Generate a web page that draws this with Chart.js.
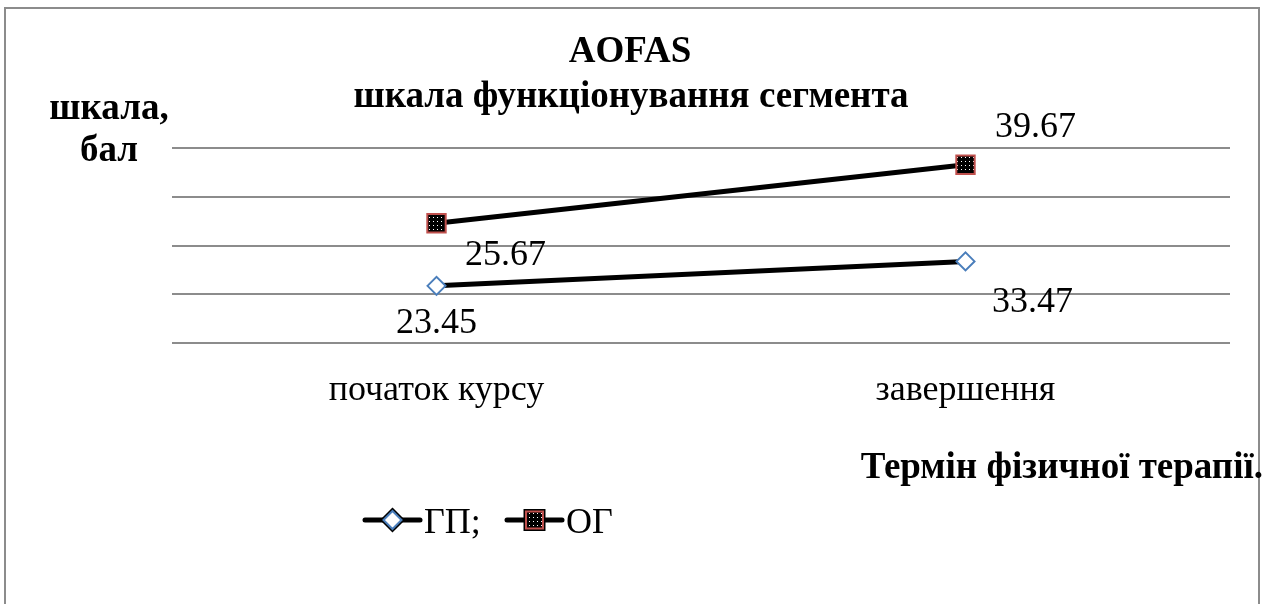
<!DOCTYPE html>
<html>
<head>
<meta charset="utf-8">
<script src="https://cdn.jsdelivr.net/npm/chart.js@4.4.0/dist/chart.umd.min.js"></script>
<style>
    html, body { margin: 0; padding: 0; background: #fff; }
    #wrap { width: 1267px; height: 604px; position: relative; }
</style>
</head>
<body>
<div id="wrap"><canvas id="aofasChart" width="1267" height="604"></canvas></div>
<script>
// ===========================
// AOFAS chart data
// ===========================
const categories = ['початок курсу', 'завершення'];
const seriesNames = ['ГП;', 'ОГ'];
const gpValues = [23.45, 33.47];
const ogValues = [25.67, 39.67];
const yTicks = [0, 20, 40, 60, 80];

const serif = '"Liberation Serif", "DejaVu Serif", serif';

// Патерн для маркера ОГ (чорна клітинка з білими крапками)
function makePattern() {
    const c = document.createElement('canvas');
    c.width = 4; c.height = 4;
    const g = c.getContext('2d');
    g.fillStyle = '#000';
    g.fillRect(0, 0, 4, 4);
    g.fillStyle = '#fff';
    g.fillRect(1, 1, 1, 1);
    return g.createPattern(c, 'repeat');
}
const ogPattern = makePattern();

// Підписи значень: зміщення відносно точки
const labelOffsets = [
    [[0, 38], [67, 41]],
    [[69, 32], [70, -37]]
];

const decorPlugin = {
    id: 'decor',
    beforeDraw(chart) {
        const ctx = chart.ctx;
        ctx.save();
        ctx.fillStyle = '#fff';
        ctx.fillRect(0, 0, chart.width, chart.height);
        ctx.strokeStyle = '#8c8c8c';
        ctx.lineWidth = 2;
        ctx.beginPath();
        ctx.moveTo(5, 700);
        ctx.lineTo(5, 8);
        ctx.lineTo(1259, 8);
        ctx.lineTo(1259, 700);
        ctx.stroke();
        ctx.restore();
    },
    afterDraw(chart) {
        const ctx = chart.ctx;
        const x = chart.scales.x;
        ctx.save();
        ctx.fillStyle = '#000';

        // Заголовок
        ctx.textBaseline = 'alphabetic';
        ctx.textAlign = 'center';
        ctx.font = 'bold 37px ' + serif;
        ctx.fillText('AOFAS', 630, 62);
        ctx.fillText('шкала функціонування сегмента', 631, 107);

        // Назва осі Y
        ctx.fillText('шкала,', 109, 119);
        ctx.fillText('бал', 109, 161);

        // Назва осі X
        ctx.textAlign = 'right';
        ctx.fillText('Термін фізичної терапії.', 1263, 478);

        // Категорії
        ctx.textAlign = 'center';
        ctx.font = '36px ' + serif;
        categories.forEach((c, i) => {
            ctx.fillText(c, x.getPixelForValue(i), 400);
        });

        // Підписи значень
        ctx.textBaseline = 'middle';
        ctx.font = '36px ' + serif;
        chart.data.datasets.forEach((ds, di) => {
            const meta = chart.getDatasetMeta(di);
            meta.data.forEach((pt, i) => {
                const off = labelOffsets[di][i];
                ctx.fillText(ds.data[i].toFixed(2), pt.x + off[0], pt.y + off[1]);
            });
        });

        // Легенда
        const legendY = 520;
        const items = [{ x: 365, text: seriesNames[0], w: 55 }, { x: 507, text: seriesNames[1], w: 55 }];
        items.forEach((it, di) => {
            const ds = chart.data.datasets[di];
            ctx.strokeStyle = '#000';
            ctx.lineWidth = 5;
            ctx.lineCap = 'round';
            ctx.beginPath();
            ctx.moveTo(it.x, legendY);
            ctx.lineTo(it.x + it.w, legendY);
            ctx.stroke();
            Chart.helpers.drawPoint(ctx, {
                pointStyle: ds.pointStyle,
                radius: di === 0 ? 9 : 12,
                borderWidth: 2
            }, it.x + it.w / 2, legendY);
            ctx.fillStyle = ds.pointBackgroundColor;
            ctx.strokeStyle = ds.pointBorderColor;
            ctx.lineWidth = 2;
            ctx.fill();
            ctx.stroke();
            ctx.fillStyle = '#000';
            ctx.textAlign = 'left';
            ctx.textBaseline = 'alphabetic';
            ctx.font = '36px ' + serif;
            ctx.fillText(it.text, it.x + it.w + 4, legendY + 13);
        });
        ctx.restore();
    }
};

const chart = new Chart(document.getElementById('aofasChart'), {
    type: 'line',
    data: {
        labels: categories,
        datasets: [{
            label: seriesNames[0],
            data: gpValues,
            borderColor: '#000',
            borderWidth: 5,
            pointStyle: 'rectRot',
            pointRadius: 9,
            pointBorderWidth: 2,
            pointBackgroundColor: '#fff',
            pointBorderColor: '#4a7ebb',
            fill: false,
            tension: 0
        }, {
            label: seriesNames[1],
            data: ogValues,
            borderColor: '#000',
            borderWidth: 5,
            pointStyle: 'rect',
            pointRadius: 13,
            pointBorderWidth: 2,
            pointBackgroundColor: ogPattern,
            pointBorderColor: '#c0504d',
            fill: false,
            tension: 0
        }]
    },
    options: {
        responsive: false,
        animation: false,
        devicePixelRatio: 1,
        layout: { padding: { left: 172, right: 37, top: 148, bottom: 261 } },
        plugins: {
            legend: { display: false },
            tooltip: { enabled: false },
            title: { display: false }
        },
        scales: {
            x: {
                offset: true,
                grid: { display: false, drawTicks: false },
                border: { display: false },
                ticks: { display: false }
            },
            y: {
                stacked: true,
                min: yTicks[0],
                max: yTicks[yTicks.length - 1],
                afterBuildTicks(scale) {
                    scale.ticks = yTicks.map(v => ({ value: v }));
                },
                grid: { color: '#8c8c8c', lineWidth: 2, drawTicks: false },
                border: { display: false },
                ticks: { display: false }
            }
        }
    },
    plugins: [decorPlugin]
});
</script>
</body>
</html>
